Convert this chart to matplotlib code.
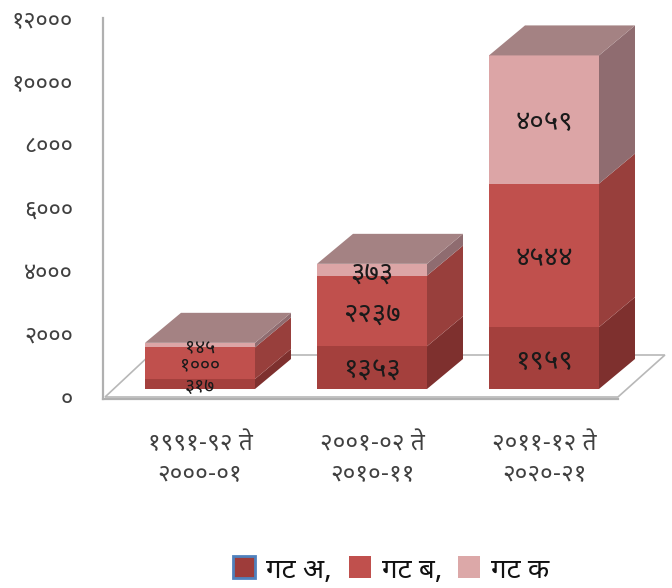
import matplotlib
matplotlib.use("Agg")
import matplotlib.pyplot as plt
from matplotlib import font_manager
from matplotlib.patches import Polygon, Rectangle

# ---------------- data ----------------
categories = ["१९९१-९२ ते\n२०००-०१", "२००१-०२ ते\n२०१०-११", "२०११-१२ ते\n२०२०-२१"]
series_names = ["गट अ,", "गट ब,", "गट क"]
gat_a = [317, 1353, 1959]
gat_b = [1000, 2237, 4544]
gat_k = [145, 373, 4059]
label_a = ["३१७", "१३५३", "१९५९"]
label_b = ["१०००", "२२३७", "४५४४"]
label_k = ["१४५", "३७३", "४०५९"]
yticks = [0, 2000, 4000, 6000, 8000, 10000, 12000]
ytick_labels = ["०", "२०००", "४०००", "६०००", "८०००", "१००००", "१२०००"]

# ---------------- font ----------------
names = {f.name for f in font_manager.fontManager.ttflist}
pref = ["Noto Sans Devanagari", "Mukta", "Hind", "Amiko", "Poppins", "FreeSans"]
dev = next((n for n in pref if n in names), None)
fams = ([dev] if dev else []) + ["DejaVu Sans"]
plt.rcParams["font.family"] = fams

# ---------------- styling ----------------
front_cols = ["#a4403d", "#c0504d", "#dca5a6"]
side_cols = ["#7e302e", "#983f3c", "#8f6c70"]
top_col = "#a48283"

W, H = 672, 588
fig = plt.figure(figsize=(W / 100, H / 100), dpi=100)
px_left, px_right = 103, 672
px_y0, px_y12 = 397, 18
ax = fig.add_axes([px_left / W, (H - px_y0) / H, (px_right - px_left) / W, (px_y0 - px_y12) / H])
unit_px = 172.0
x_center_px = 200.0
ax.set_xlim((px_left - x_center_px) / unit_px, (px_right - x_center_px) / unit_px)
ax.set_ylim(0, 12000)
ax.axis("off")

ypx = 12000 / (px_y0 - px_y12)  # data units per pixel
dx = 36 / unit_px
dy = 30 * ypx
half = 55 / unit_px
floor_off = 8 * ypx

# floor
floor = Polygon([(-0.552, 0), (2.430, 0), (2.703, 42 * ypx), (-0.291, 42 * ypx)],
                closed=True, facecolor="white", edgecolor="#b8b8b8", lw=1.2,
                clip_on=False, zorder=1)
ax.add_patch(floor)
ax.plot([ax.get_xlim()[0]] * 2, [-2 * ypx, 12000], color="#b0b0b0", lw=1.6,
        clip_on=False, zorder=1)
ax.plot([ax.get_xlim()[0], 2.430], [-2 * ypx, -2 * ypx], color="#b0b0b0", lw=1.6,
        clip_on=False, zorder=1)

series = [gat_a, gat_b, gat_k]
labels = [label_a, label_b, label_k]
for i in range(len(categories)):
    x0, x1 = i - half, i + half
    base = floor_off
    for s in range(3):
        v = series[s][i]
        t = base + v
        ax.add_patch(Polygon([(x1, base), (x1 + dx, base + dy), (x1 + dx, t + dy), (x1, t)],
                             closed=True, facecolor=side_cols[s], edgecolor="none",
                             clip_on=False, zorder=2))
        ax.add_patch(Rectangle((x0, base), x1 - x0, v, facecolor=front_cols[s],
                               edgecolor="none", clip_on=False, zorder=3))
        fs = 20 if i > 0 else 14
        ax.text(i, base + v / 2, labels[s][i], ha="center", va="center_baseline",
                fontsize=fs, color="#1a1a1a", zorder=6, clip_on=False)
        base = t
    ax.add_patch(Polygon([(x0, base), (x1, base), (x1 + dx, base + dy), (x0 + dx, base + dy)],
                         closed=True, facecolor=top_col, edgecolor="none",
                         clip_on=False, zorder=4))

# y tick labels
for v, lab in zip(yticks, ytick_labels):
    ax.text(-0.564 - 30 / unit_px, v, lab, ha="right", va="center_baseline",
            fontsize=17, color="#404040", clip_on=False)

# category labels
for i, c in enumerate(categories):
    ax.text(i, -1120, c, ha="center", va="top", fontsize=17.5, color="#404040",
            linespacing=1.32, clip_on=False)

# legend
leg_y = 567
items_px = [(233, series_names[0]), (349, series_names[1]), (458, series_names[2])]
leg_cols = ["#9e3c3a", "#c0504d", "#dca8a8"]
for (lx, name), col, k in zip(items_px, leg_cols, range(3)):
    ec = "#4f81bd" if k == 0 else "none"
    fig.patches.append(Rectangle((lx / W, (H - leg_y - 11) / H), 22 / W, 22 / H,
                                 transform=fig.transFigure, facecolor=col,
                                 edgecolor=ec, lw=2.0))
    fig.text((lx + 33) / W, (H - leg_y) / H, name, ha="left", va="center_baseline",
             fontsize=20, color="#111111")

fig.savefig("out.png", dpi=100)
